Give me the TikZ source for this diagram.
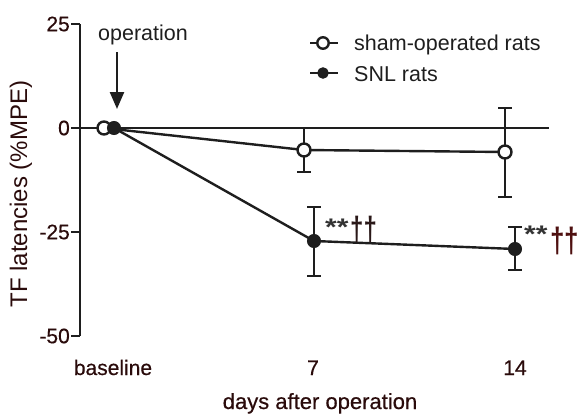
\documentclass[tikz,border=0pt]{standalone}
\usepackage{fontspec}
\setmainfont{Liberation Sans}
\newfontfamily\heavyfont{Liberation Sans}[FakeBold=0.5]
\usetikzlibrary{arrows.meta}
\definecolor{ink}{HTML}{1E1E1E}
\definecolor{labelink}{HTML}{2A0B0B}
\definecolor{starink}{HTML}{333333}
\definecolor{daggerdark}{HTML}{2A1818}
\definecolor{daggerred}{HTML}{4E1010}
\begin{document}
\begin{tikzpicture}[x=1pt,y=-1pt,
  axisline/.style={line width=2.8pt, draw=ink},
  dataline/.style={line width=2.4pt, draw=ink},
  errbar/.style={line width=2.6pt, draw=ink},
  openpt/.style={circle, draw=ink, fill=white, line width=2.4pt, minimum size=13pt, inner sep=0pt},
  fillpt/.style={circle, draw=ink, fill=ink, line width=1pt, minimum size=13pt, inner sep=0pt},
  lgopen/.style={openpt, minimum size=11.5pt},
  lgfill/.style={fillpt, minimum size=10.5pt},
  ticklabel/.style={anchor=east, text=labelink, inner sep=0pt, font=\heavyfont\fontsize{21}{22}\selectfont},
  catlabel/.style={anchor=base, text=labelink, inner sep=0pt, font=\heavyfont\fontsize{21}{22}\selectfont},
  plainlabel/.style={inner sep=0pt, text=ink, font=\fontsize{21.5}{24}\selectfont},
  stars/.style={anchor=base west, inner sep=0pt, text=starink, font=\bfseries\fontsize{30}{30}\selectfont},
  daggers/.style={anchor=base west, inner sep=0pt, font=\bfseries\fontsize{24}{24}\selectfont},
]
\useasboundingbox (0,0) rectangle (582,415);

% ---- axes ----
\coordinate (ytop) at (80,24);
\coordinate (ybot) at (80,336);
\draw[axisline] (ytop) -- (ybot);
\foreach \v/\name in {25/t25, 0/t0, -25/tm25, -50/tm50} {
  \coordinate (\name) at (80,{128-4.16*\v});
  \coordinate (\name l) at (71,{128-4.16*\v});
  \draw[axisline] (\name l) -- (\name);
}
\node[ticklabel] (l25)   at (70,24)  {25};
\node[ticklabel] (l0)    at (70,128) {0};
\node[ticklabel] (lm25)  at (70,232) {-25};
\node[ticklabel] (lm50)  at (70,336) {-50};

% zero reference line
\coordinate (zend) at (549,128);
\draw[axisline, line width=2.6pt] (t0) -- (zend);

% ---- axis titles and category labels ----
\node[rotate=90, text=labelink, inner sep=0pt, font=\fontsize{24}{26}\selectfont] (ytitle) at (21,194) {TF latencies (\%MPE)};
\node[catlabel] (cbase) at (113,375) {baseline};
\node[catlabel] (c7)    at (313,375) {7};
\node[catlabel] (c14)   at (515,375) {14};
\node[catlabel, font=\heavyfont\fontsize{22}{24}\selectfont] (xtitle) at (320,409) {days after operation};

% ---- operation marker ----
\node[plainlabel, anchor=base] (op) at (143,40) {operation};
\coordinate (optop) at (117,52);
\coordinate (optip) at (117,109);
\draw[line width=2.4pt, draw=ink, -{Triangle[length=17pt,width=14pt]}] (optop) -- (optip);

% ---- error bars ----
\foreach \nm/\x/\hi/\lo in {s7/304/128/172, s14/505/108/197, n7/314/207/276, n14/515/227/270} {
  \coordinate (\nm hi) at (\x,\hi);
  \coordinate (\nm lo) at (\x,\lo);
  \coordinate (\nm hiL) at (\x-7,\hi);
  \coordinate (\nm hiR) at (\x+7,\hi);
  \coordinate (\nm loL) at (\x-7,\lo);
  \coordinate (\nm loR) at (\x+7,\lo);
  \draw[errbar] (\nm hi) -- (\nm lo);
  \draw[errbar] (\nm hiL) -- (\nm hiR);
  \draw[errbar] (\nm loL) -- (\nm loR);
}

% ---- data points ----
\coordinate (s0) at (104,128);
\coordinate (s7) at (304,150);
\coordinate (s14) at (505,152);
\coordinate (n0) at (114,128);
\coordinate (n7) at (314,241);
\coordinate (n14) at (515,249);

\draw[dataline] (s0) -- (s7) -- (s14);
\draw[dataline] (n0) -- (n7) -- (n14);

\node[openpt] (ps0)  at (s0)  {};
\node[openpt] (ps7)  at (s7)  {};
\node[openpt] (ps14) at (s14) {};
\node[fillpt] (pn0)  at (n0)  {};
\node[fillpt] (pn7)  at (n7)  {};
\node[fillpt] (pn14) at (n14) {};

% ---- significance marks ----
\node[stars] (st7) at (325,235) {\scalebox{1}[0.8]{**}};
\node[daggers, text=daggerdark] (dg7) at (350,240) {\scalebox{1}[1.4]{††}};
\node[stars] (st14) at (524,242) {\scalebox{1}[0.8]{**}};
\node[daggers, text=daggerred, font=\bfseries\fontsize{26}{26}\selectfont] (dg14) at (550,252) {\scalebox{1}[1.35]{††}};

% ---- legend ----
\coordinate (lg1a) at (310,43);
\coordinate (lg1b) at (338,43);
\coordinate (lg2a) at (310,73);
\coordinate (lg2b) at (338,73);
\draw[dataline] (lg1a) -- (lg1b);
\draw[dataline] (lg2a) -- (lg2b);
\node[lgopen] (lgs) at (323,43) {};
\node[lgfill] (lgn) at (323,73) {};
\node[plainlabel, anchor=base west] (lgst) at (354,50) {sham-operated rats};
\node[plainlabel, anchor=base west] (lgnt) at (354,81) {SNL rats};
\end{tikzpicture}
\end{document}
